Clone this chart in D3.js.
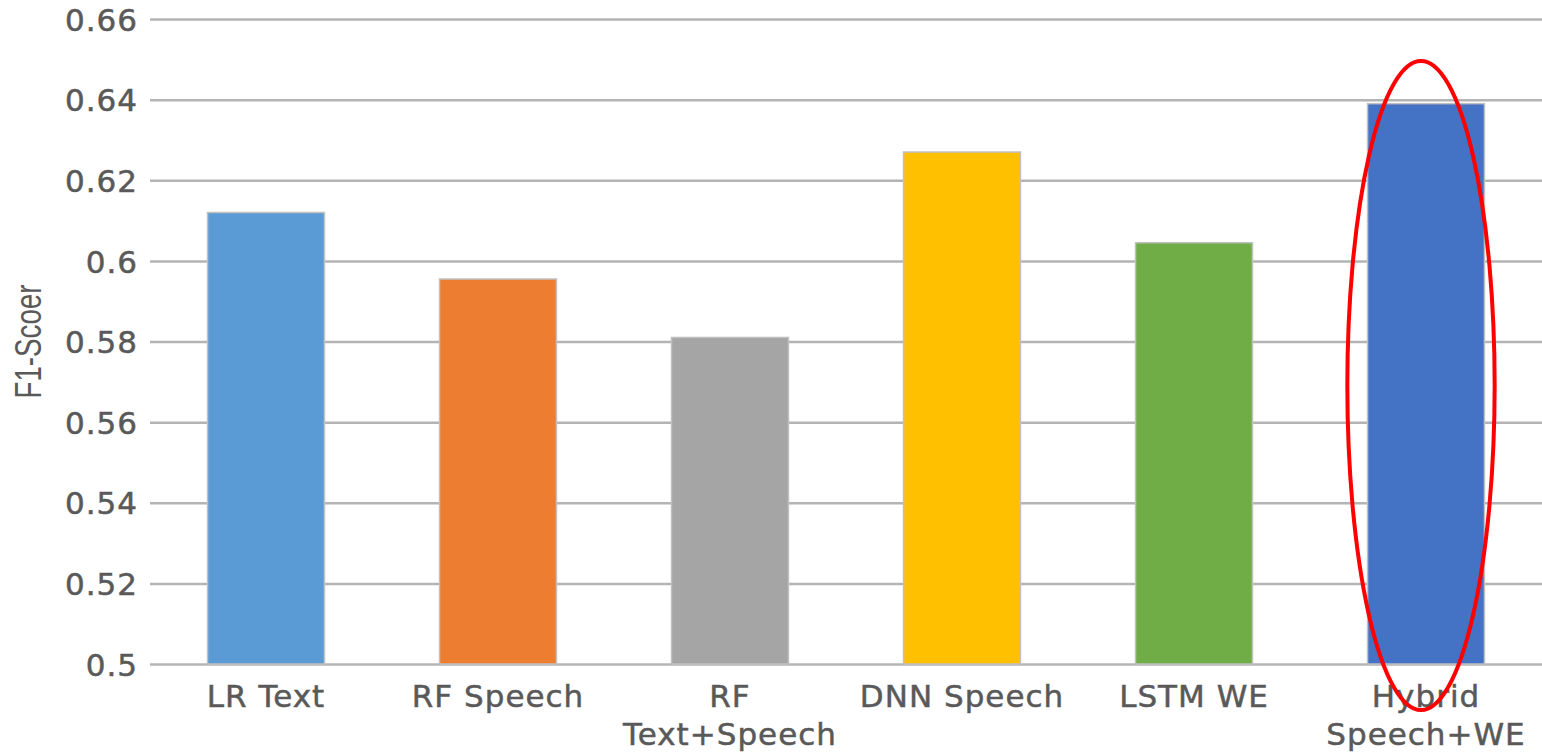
<!DOCTYPE html>
<html>
<head>
<meta charset="utf-8">
<script src="https://cdn.jsdelivr.net/npm/d3@7"></script>
<style>
  body { margin: 0; background: #fff; }
  text { font-family: "DejaVu Sans", sans-serif; fill: #595959; }
  .lbl { stroke: #595959; stroke-width: 0.5px; letter-spacing: 1px; }
</style>
</head>
<body>
<div id="chart"></div>
<script>
// data
const categories = ["LR Text", "RF Speech", "RF\nText+Speech", "DNN Speech", "LSTM WE", "Hybrid\nSpeech+WE"];
const scores = [0.612, 0.5955, 0.581, 0.627, 0.6045, 0.639];
const colors = ["#5B9BD5", "#ED7D31", "#A5A5A5", "#FFC000", "#70AD47", "#4472C4"];
const yTicks = [0.5, 0.52, 0.54, 0.56, 0.58, 0.6, 0.62, 0.64, 0.66];
const highlight = "Hybrid\nSpeech+WE";

const width = 1542, height = 752;
const margin = {top: 19, right: 0, bottom: 88, left: 150};

const svg = d3.select("#chart").append("svg")
  .attr("width", width)
  .attr("height", height);

const x = d3.scaleBand()
  .domain(categories)
  .range([margin.left, width - margin.right])
  .paddingInner(0.496)
  .paddingOuter(0.248);

const y = d3.scaleLinear()
  .domain([0.5, 0.66])
  .range([height - margin.bottom, margin.top]);

// y axis + gridlines
const yAxis = g => g
  .attr("transform", `translate(${margin.left},0)`)
  .call(d3.axisLeft(y)
    .tickValues(yTicks)
    .tickSize(-(width - margin.left - margin.right))
    .tickPadding(12)
    .tickFormat(d => String(+d.toFixed(2))))
  .call(g => g.select(".domain").remove())
  .call(g => g.selectAll(".tick line").attr("stroke", "#b4b4b4").attr("stroke-width", 2.5))
  .call(g => g.selectAll(".tick text")
    .attr("class", "lbl")
    .attr("fill", "#595959")
    .attr("dy", "0.36em")
    .style("font-size", "31px")
    .style("font-family", "'DejaVu Sans', sans-serif"));

svg.append("g").call(yAxis);

// bars
svg.append("g")
  .selectAll("rect")
  .data(categories)
  .join("rect")
    .attr("x", d => x(d))
    .attr("width", x.bandwidth())
    .attr("y", (d, i) => y(scores[i]))
    .attr("height", (d, i) => y(0.5) - y(scores[i]))
    .attr("fill", (d, i) => colors[i])
    .attr("stroke", "#c0c0c0")
    .attr("stroke-width", 1.5);

// x labels (multi-line)
svg.append("g")
  .selectAll("text")
  .data(categories)
  .join("text")
    .attr("class", "lbl")
    .attr("text-anchor", "middle")
    .attr("transform", d => `translate(${x(d) + x.bandwidth() / 2},${y(0.5) + 43})`)
    .style("font-size", "31px")
  .selectAll("tspan")
  .data(d => d.split("\n"))
  .join("tspan")
    .attr("x", 0)
    .attr("dy", (d, i) => i === 0 ? 0 : 38)
    .text(d => d);

// axis title (narrow font in the original)
svg.append("text")
  .attr("transform", `translate(41,${(y(0.5) + y(0.66)) / 2 + 0}) rotate(-90)`)
  .attr("text-anchor", "middle")
  .attr("textLength", 114)
  .attr("lengthAdjust", "spacingAndGlyphs")
  .style("font-family", "'Liberation Sans Narrow', 'Liberation Sans', sans-serif")
  .style("font-size", "36px")
  .text("F1-Scoer");

// red ellipse around the best model
const hx = x(highlight) + x.bandwidth() / 2 - 5;
const ellTop = y(0.6496), ellBottom = y(0.5) + 46;
svg.append("ellipse")
  .attr("cx", hx)
  .attr("cy", (ellTop + ellBottom) / 2)
  .attr("rx", x.bandwidth() * 0.63)
  .attr("ry", (ellBottom - ellTop) / 2)
  .attr("fill", "none")
  .attr("stroke", "#ff0000")
  .attr("stroke-width", 4);
</script>
</body>
</html>
